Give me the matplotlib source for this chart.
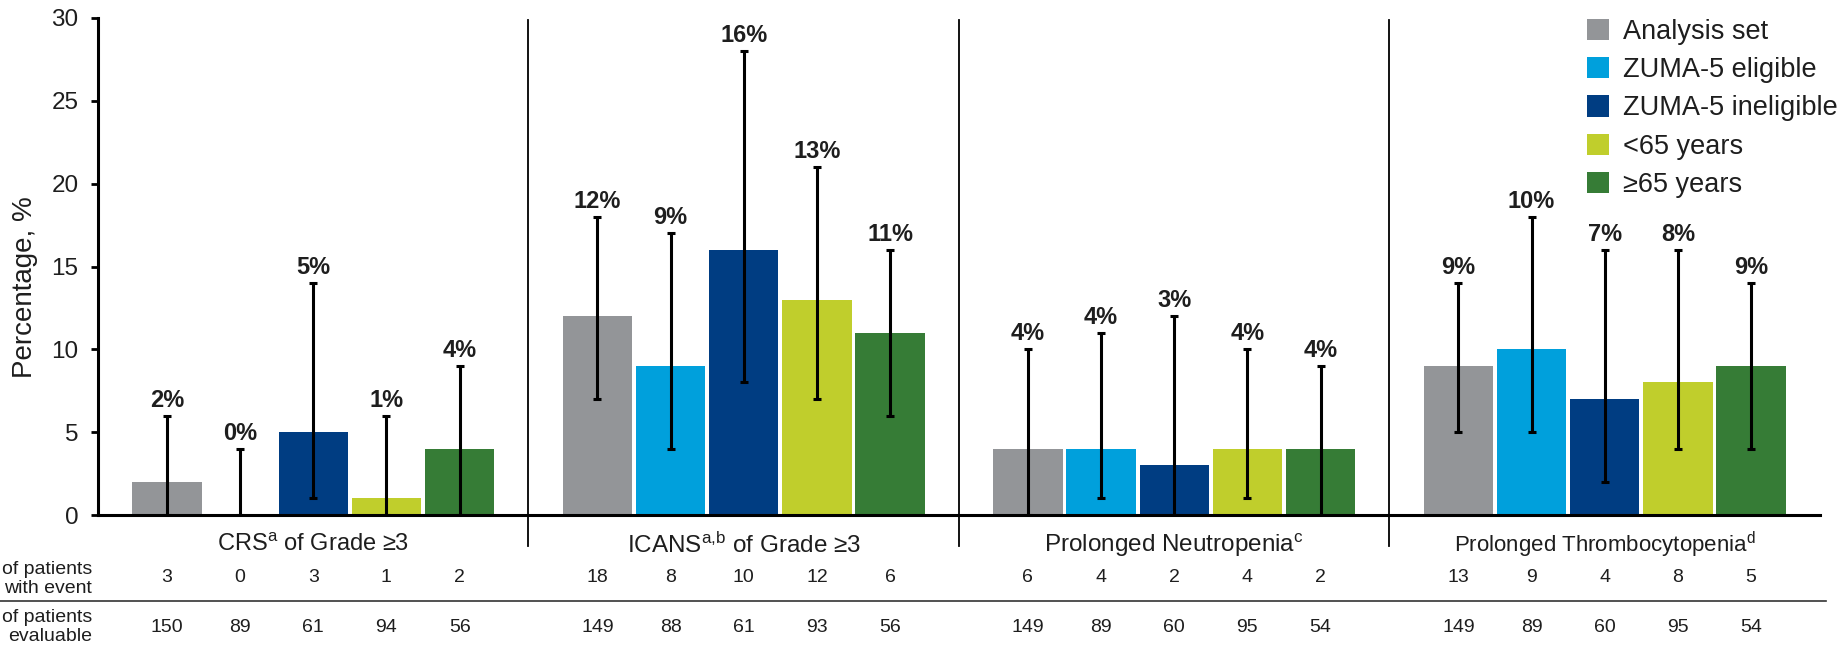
import numpy as np
import matplotlib
matplotlib.use("Agg")
import matplotlib.pyplot as plt
from matplotlib.patches import Patch
from matplotlib.lines import Line2D
from matplotlib.transforms import blended_transform_factory

plt.rcParams['font.family'] = ['Liberation Sans', 'DejaVu Sans']
plt.rcParams['mathtext.fontset'] = 'custom'
plt.rcParams['mathtext.rm'] = 'Liberation Sans'
plt.rcParams['mathtext.it'] = 'Liberation Sans:italic'
plt.rcParams['mathtext.bf'] = 'Liberation Sans:bold'

# Adverse event groups and subgroups
events = ["CRS$^{\\mathrm{a}}$ of Grade ≥3",
          "ICANS$^{\\mathrm{a{,}b}}$ of Grade ≥3",
          "Prolonged Neutropenia$^{\\mathrm{c}}$",
          "Prolonged Thrombocytopenia$^{\\mathrm{d}}$"]
event_fontsize = [17, 17.5, 17.5, 16]
subgroups = ["Analysis set", "ZUMA-5 eligible", "ZUMA-5 ineligible",
             "<65 years", "≥65 years"]
colors = ["#939598", "#00A0DC", "#003D82", "#C0CE2C", "#367C36"]

# Percentages (rows = subgroup, cols = event)
pct = np.array([
    [2, 12, 4, 9],
    [0, 9, 4, 10],
    [5, 16, 3, 7],
    [1, 13, 4, 8],
    [4, 11, 4, 9],
])
ci_low = np.array([
    [0, 7, 0, 5],
    [0, 4, 1, 5],
    [1, 8, 0, 2],
    [0, 7, 1, 4],
    [0, 6, 0, 4],
])
ci_high = np.array([
    [6, 18, 10, 14],
    [4, 17, 11, 18],
    [14, 28, 12, 16],
    [6, 21, 10, 16],
    [9, 16, 9, 14],
])

# Patient counts
n_event = np.array([
    [3, 18, 6, 13],
    [0, 8, 4, 9],
    [3, 10, 2, 4],
    [1, 12, 4, 8],
    [2, 6, 2, 5],
])
n_eval = np.array([
    [150, 149, 149, 149],
    [89, 88, 89, 89],
    [61, 61, 60, 60],
    [94, 93, 95, 95],
    [56, 56, 54, 54],
])

W, H = 1849, 646
fig = plt.figure(figsize=(W / 100, H / 100), dpi=100)
ax = fig.add_axes([98 / W, 1 - 515 / H, (1820 - 98) / W, (515 - 18) / H])

txt = "#1e1e1e"
step = 0.17      # distance between neighbouring bars
width = 0.161    # leaves a thin white gap
groups = np.arange(len(events))

for i, (name, col) in enumerate(zip(subgroups, colors)):
    x = groups + (i - 2) * step
    ax.bar(x, pct[i], width=width, color=col, linewidth=0, zorder=1)
    ax.errorbar(x, pct[i], yerr=[pct[i] - ci_low[i], ci_high[i] - pct[i]],
                fmt="none", ecolor="black", elinewidth=2.2, capsize=3.2,
                capthick=2.2, zorder=3)
    for xi, v, hi in zip(x, pct[i], ci_high[i]):
        ax.annotate(f"{v}%", (xi, hi), xytext=(0, 6.5),
                    textcoords="offset points", ha="center", va="baseline",
                    fontsize=17, fontweight="bold", color=txt)

ax.set_xlim(-0.5, 3.5)
ax.set_ylim(0, 30)
ax.set_yticks(np.arange(0, 31, 5))
ax.set_xticks([])
ax.tick_params(axis="y", length=5, width=2, pad=9, labelsize=17.5,
               labelcolor=txt)
for s in ["top", "right"]:
    ax.spines[s].set_visible(False)
ax.spines["left"].set_linewidth(2.2)
ax.spines["bottom"].set_linewidth(2.2)
ax.spines["bottom"].set_zorder(4)

# Group separators running down into the label strip
trans = blended_transform_factory(ax.transData, ax.transAxes)
for sep in groups[:-1] + 0.5:
    ax.plot([sep, sep], [-0.0624, 0.996], color="black", lw=1.3,
            transform=trans, clip_on=False)

fig.text(25 / W, 1 - 287 / H, "Percentage, %", rotation=90, ha="center",
         va="center", fontsize=20, color=txt)

# Event names and the count table below the axis
tr = blended_transform_factory(ax.transData, fig.transFigure)
for g, ev in zip(groups, events):
    ax.text(g, 1 - 545 / H, ev, transform=tr, ha="center", va="center",
            fontsize=event_fontsize[g], color=txt)
    for i in range(len(subgroups)):
        xi = g + (i - 2) * step
        ax.text(xi, 1 - 578 / H, str(n_event[i, g]), transform=tr,
                ha="center", va="center", fontsize=14, color=txt)
        ax.text(xi, 1 - 627 / H, str(n_eval[i, g]), transform=tr,
                ha="center", va="center", fontsize=14, color=txt)

fig.text(92 / W, 1 - 579 / H, "of patients\nwith event", ha="right",
         va="center", fontsize=14, color=txt, linespacing=1.15)
fig.text(92 / W, 1 - 627 / H, "of patients\nevaluable", ha="right",
         va="center", fontsize=14, color=txt, linespacing=1.15)
fig.add_artist(Line2D([0, 1826 / W], [1 - 601 / H] * 2, color="#333333",
                      lw=1.2))

handles = [Patch(facecolor=c, edgecolor="none") for c in colors]
fig.legend(handles, subgroups, loc="upper left",
           bbox_to_anchor=(1587 / W, 1 - 19 / H), frameon=False,
           fontsize=19.5, handlelength=0.83, handleheight=0.83,
           handletextpad=0.5, labelspacing=0.45, borderpad=0,
           borderaxespad=0, labelcolor=txt)

fig.savefig("out.png", dpi=100)
